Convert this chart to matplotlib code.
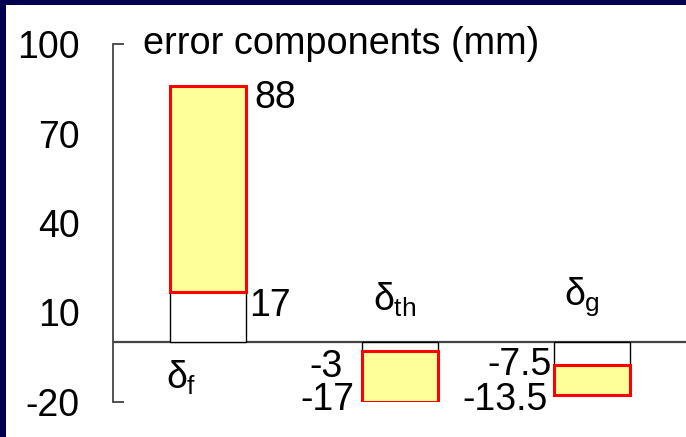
import matplotlib
matplotlib.use("Agg")
import matplotlib.pyplot as plt
from matplotlib.patches import Rectangle

plt.rcParams['font.family'] = ['Liberation Sans', 'DejaVu Sans']
plt.rcParams['mathtext.fontset'] = 'custom'
plt.rcParams['mathtext.rm'] = 'Liberation Sans'
plt.rcParams['mathtext.it'] = 'Liberation Sans'

# error components, as drawn on the slide (mm)
names = [r'$\delta_{\mathrm{f}}$', r'$\delta_{\mathrm{th}}$', r'$\delta_{\mathrm{g}}$']
split = [17, -3, -7.5]        # end of white part / start of yellow part
ends = [86, -20, -17.7]       # end of yellow part
split_text = ['17', '-3', '-7.5']
end_text = ['88', '-17', '-13.5']
yticks = [100, 70, 40, 10, -20]

FS = 27
navy = '#00004e'

fig = plt.figure(figsize=(6.86, 4.37), dpi=100, facecolor=navy)
fig.patches.append(Rectangle((6 / 686, 0), 1, (437 - 5) / 437,
                             transform=fig.transFigure, facecolor='white',
                             edgecolor='none', zorder=-5))
ax = fig.add_axes([113 / 686, 35 / 437, 1 - 113 / 686, 358 / 437])
ax.set_facecolor('none')

x = list(range(len(names)))
w = 0.40
ax.bar(x, split, width=w, color='white', edgecolor='black', linewidth=1.0, zorder=2)
ax.bar(x, [e - s for s, e in zip(split, ends)], bottom=split, width=w,
       color='#ffff99', edgecolor='#ff0000', linewidth=2.2, zorder=3)
ax.axhline(0, color='#444444', linewidth=1.6, zorder=1)

ax.set_xlim(-0.495, 2.49)
ax.set_ylim(-20, 100)
for s in ['top', 'right', 'bottom']:
    ax.spines[s].set_visible(False)
ax.spines['left'].set_color('#444444')
ax.spines['left'].set_linewidth(1.3)
ax.set_xticks([])
ax.set_yticks(yticks)
ax.set_yticklabels([str(v) for v in yticks])
# pad and length are in points (px * 0.72)
ax.tick_params(axis='y', which='major', direction='in', length=8, width=1.3,
               color='#444444', pad=24, labelsize=FS)
# only the two end ticks are drawn, like a bracket
for v, tk in zip(yticks, ax.yaxis.get_major_ticks()):
    if v not in (100, -20):
        tk.tick1line.set_visible(False)

# value labels around each bar: (text, y value, side, dx px, dy px)
labels = [
    (end_text[0], ends[0], 'right', 8, -12),
    (split_text[0], split[0], 'right', 3, -14),
    (split_text[1], split[1], 'left', -19, -16),
    (end_text[1], ends[1], 'left', -7, 2),
    (split_text[2], split[2], 'left', -2, 0),
    (end_text[2], ends[2], 'left', -6, -5),
]
idx = [0, 0, 1, 1, 2, 2]
for i, (t, yv, side, dx, dy) in zip(idx, labels):
    if side == 'right':
        xv, ha = x[i] + w / 2, 'left'
    else:
        xv, ha = x[i] - w / 2, 'right'
    ax.annotate(t, (xv, yv), xytext=(dx, dy), textcoords='offset pixels',
                ha=ha, va='center', fontsize=FS, annotation_clip=False)

# component names
name_pos = [(-0.14, -11.8), (0.97, 14.2), (1.95, 15.3)]
for n, (nx_, ny_) in zip(names, name_pos):
    ax.text(nx_, ny_, n, ha='center', va='center', fontsize=FS)

fig.text(143 / 686, 1 - 44 / 437, 'error components (mm)', ha='left',
         va='center', fontsize=27.3)

fig.savefig('out.png', dpi=100, facecolor=navy)
